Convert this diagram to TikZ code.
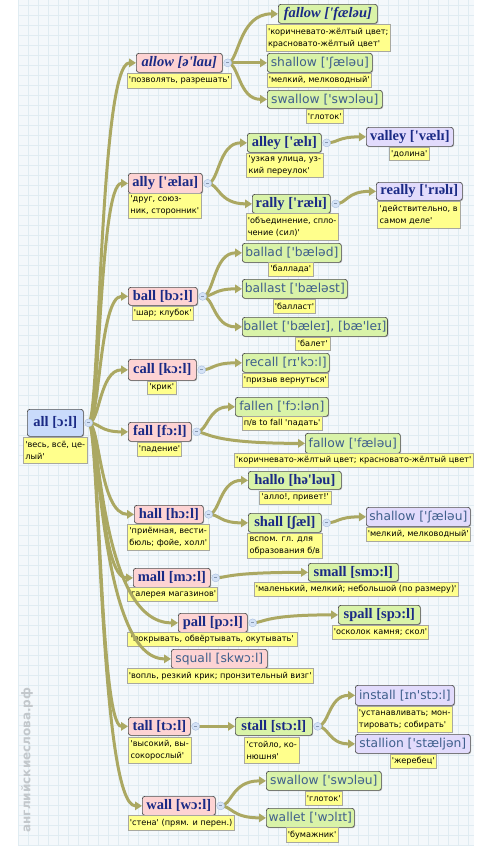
\documentclass[tikz,border=0pt]{standalone}
\usepackage{fontspec}
\setmainfont{DejaVu Sans}
\newfontfamily\hwb{Liberation Serif}[Ligatures=TeXOff]
\newfontfamily\hwn{DejaVu Sans}[Ligatures=TeXOff]
\newfontfamily\trf{DejaVu Sans}[Ligatures=TeXOff]
\usetikzlibrary{arrows.meta,calc,shadows}
\definecolor{navy}{HTML}{1A2A85}
\definecolor{lblue}{HTML}{3F5F8C}
\definecolor{bord}{HTML}{505050}
\definecolor{pinkf}{HTML}{FDD3D3}
\definecolor{greenf}{HTML}{D9F3A8}
\definecolor{purpf}{HTML}{E2DBFC}
\definecolor{bluef}{HTML}{C9DBFB}
\definecolor{yel}{HTML}{FFFF8C}
\definecolor{trb}{HTML}{A8A8A0}
\definecolor{olv}{HTML}{ABA862}
\definecolor{ccf}{HTML}{D4E2F6}
\definecolor{ccd}{HTML}{A9BEDD}
\definecolor{bgf}{HTML}{F4F8FB}
\definecolor{grd}{HTML}{E0ECF2}
\definecolor{wm}{HTML}{C3C8CC}
\tikzset{
 hw/.style={draw=bord, line width=0.7pt, rounded corners=2.5pt, anchor=north west, inner sep=1pt, align=center,
   drop shadow={shadow xshift=0.8pt,shadow yshift=-0.8pt,fill=black!50,opacity=0.5}},
 hb/.style={hw, font=\hwb\bfseries\fontsize{14.5}{15}\selectfont, text=navy},
 hbi/.style={hw, font=\hwb\bfseries\itshape\fontsize{14.5}{15}\selectfont, text=navy},
 hn/.style={hw, font=\hwn\fontsize{12.3}{13}\selectfont, text=lblue},
 pk/.style={fill=pinkf}, gr/.style={fill=greenf}, pu/.style={fill=purpf}, bl/.style={fill=bluef},
 tr/.style={draw=trb, line width=0.5pt, fill=yel, anchor=north west, inner xsep=1.5pt, inner ysep=1pt,
   align=left, font=\trf\fontsize{8.2}{12}\selectfont},
 lnk/.style={draw=olv, line width=3pt, -{Triangle[length=7pt,width=8.5pt]}},
 cc/.style={circle, fill=ccf, draw=ccd, line width=0.4pt, minimum size=8pt, inner sep=0pt},
 wmark/.style={rotate=90, text=wm, font=\trf\bfseries\fontsize{12}{12}\selectfont},
}
\newcommand\lk[2]{\draw[lnk] (#1c) .. controls ($(#1c)+(11,0)$) and ($(#1c |- #2.west)+(11,0)$) .. (#2.west);}
\newcommand\mkc[1]{\coordinate (#1c) at ($(#1.east)+(5,0)$);}
\newcommand\drc[1]{\node[cc] (#1cc) at (#1c) {\textcolor{ccd!80!black}{\rule[0.2pt]{3pt}{0.6pt}}};}
\begin{document}
\begin{tikzpicture}[x=1pt,y=-1pt]
\useasboundingbox (0,0) rectangle (494,847);
\fill[bgf] (18,0) rectangle (474,845);
\foreach \i in {18,28,...,474} \draw[grd,line width=0.4pt] (\i,0) -- (\i,845);
\foreach \j in {5,15,...,845} \draw[grd,line width=0.4pt] (18,\j) -- (474,\j);
\node[wmark] (wmk) at (27,760) {английскиеслова.рф};

% headwords
\node[hb,bl,minimum width=56pt,minimum height=27pt] (all) at (27,409) {all [ɔ:l]};
\node[tr,minimum width=64pt,minimum height=26pt] (t-all) at (23,437) {'весь, всё, це-\\лый'};

\node[hbi,pk,minimum width=86pt,minimum height=19pt] (allow) at (136,53) {allow [ə'lau]};
\node[tr,minimum width=103pt,minimum height=15pt] (t-allow) at (127,73) {'позволять, разрешать'};
\node[hbi,gr,minimum width=99pt,minimum height=19pt] (fallowa) at (278,4) {fallow ['fæləu]};
\node[tr,minimum width=124pt,minimum height=27pt] (t-fallowa) at (266,24) {'коричневато-жёлтый цвет;\\красновато-жёлтый цвет'};
\node[hn,gr,minimum width=105pt,minimum height=19pt] (shallowa) at (267,53) {shallow ['ʃæləu]};
\node[tr,minimum width=102pt,minimum height=14pt] (t-shallowa) at (267,73) {'мелкий, мелководный'};
\node[hn,gr,minimum width=115pt,minimum height=18pt] (swallowa) at (267,90) {swallow ['swɔləu]};
\node[tr,minimum width=37pt,minimum height=14pt] (t-swallowa) at (306,109) {'глоток'};

\node[hb,pk,minimum width=74pt,minimum height=20pt] (ally) at (128,173) {ally ['ælaɪ]};
\node[tr,minimum width=73pt,minimum height=25pt] (t-ally) at (128,193) {'друг, союз-\\ник, сторонник'};
\node[hb,gr,minimum width=74pt,minimum height=19pt] (alley) at (247,133) {alley ['ælɪ]};
\node[tr,minimum width=77pt,minimum height=24pt] (t-alley) at (246,153) {'узкая улица, уз-\\кий переулок'};
\node[hb,pu,minimum width=87pt,minimum height=19pt] (valley) at (366,127) {valley ['vælɪ]};
\node[tr,minimum width=40pt,minimum height=13pt] (t-valley) at (389,147) {'долина'};
\node[hb,gr,minimum width=78pt,minimum height=19pt] (rally) at (252,194) {rally ['rælɪ]};
\node[tr,minimum width=91pt,minimum height=27pt] (t-rally) at (246,213) {'объединение, спло-\\чение (сил)'};
\node[hb,pu,minimum width=86pt,minimum height=18pt] (really) at (376,182) {really ['rɪəlɪ]};
\node[tr,minimum width=83pt,minimum height=27pt] (t-really) at (377,201) {'действительно, в\\самом деле'};

\node[hb,pk,minimum width=69pt,minimum height=18pt] (ball) at (128,287) {ball [bɔ:l]};
\node[tr,minimum width=61pt,minimum height=14pt] (t-ball) at (132,306) {'шар; клубок'};
\node[hn,gr,minimum width=99pt,minimum height=19pt] (ballad) at (242,243) {ballad ['bæləd]};
\node[tr,minimum width=45pt,minimum height=14pt] (t-ballad) at (268,262) {'баллада'};
\node[hn,gr,minimum width=105pt,minimum height=19pt] (ballast) at (242,279) {ballast ['bæləst]};
\node[tr,minimum width=42pt,minimum height=14pt] (t-ballast) at (273,299) {'балласт'};
\node[hn,gr,minimum width=141pt,minimum height=19pt] (ballet) at (242,317) {ballet ['bæleɪ], [bæ'leɪ]};
\node[tr,minimum width=35pt,minimum height=13pt] (t-ballet) at (295,337) {'балет'};

\node[hb,pk,minimum width=68pt,minimum height=21pt] (call) at (128,359) {call [kɔ:l]};
\node[tr,minimum width=29pt,minimum height=13pt] (t-call) at (147,381) {'крик'};
\node[hn,gr,minimum width=87pt,minimum height=19pt] (recall) at (242,353) {recall [rɪ'kɔ:l]};
\node[tr,minimum width=86pt,minimum height=14pt] (t-recall) at (242,373) {'призыв вернуться'};

\node[hb,pk,minimum width=63pt,minimum height=19pt] (fall) at (128,422) {fall [fɔ:l]};
\node[tr,minimum width=40pt,minimum height=14pt] (t-fall) at (137,442) {'падение'};
\node[hn,gr,minimum width=93pt,minimum height=19pt] (fallen) at (235,397) {fallen ['fɔ:lən]};
\node[tr,minimum width=79pt,minimum height=14pt] (t-fallen) at (242,416) {п/в to fall 'падать'};
\node[hn,gr,minimum width=95pt,minimum height=20pt] (fallowb) at (305,433) {fallow ['fæləu]};
\node[tr,minimum width=239pt,minimum height=14pt] (t-fallowb) at (234,453) {'коричневато-жёлтый цвет; красновато-жёлтый цвет'};

\node[hb,pk,minimum width=69pt,minimum height=18pt] (hall) at (134,505) {hall [hɔ:l]};
\node[tr,minimum width=82pt,minimum height=26pt] (t-hall) at (127,524) {'приёмная, вести-\\бюль; фойе, холл'};
\node[hb,gr,minimum width=93pt,minimum height=18pt] (hallo) at (248,471) {hallo [hə'ləu]};
\node[tr,minimum width=72pt,minimum height=13pt] (t-hallo) at (259,491) {'алло!, привет!'};
\node[hb,gr,minimum width=73pt,minimum height=19pt] (shall) at (248,513) {shall [ʃæl]};
\node[tr,minimum width=75pt,minimum height=25pt] (t-shall) at (247,533) {вспом. гл. для\\образования б/в};
\node[hn,pu,minimum width=104pt,minimum height=19pt] (shallowb) at (366,507) {shallow ['ʃæləu]};
\node[tr,minimum width=102pt,minimum height=14pt] (t-shallowb) at (366,527) {'мелкий, мелководный'};

\node[hb,pk,minimum width=77pt,minimum height=19pt] (mall) at (133,568) {mall [mɔ:l]};
\node[tr,minimum width=89pt,minimum height=14pt] (t-mall) at (127,587) {'галерея магазинов'};
\node[hb,gr,minimum width=90pt,minimum height=18pt] (small) at (308,563) {small [smɔ:l]};
\node[tr,minimum width=198pt,minimum height=14pt] (t-small) at (254,582) {'маленький, мелкий; небольшой (по размеру)'};

\node[hb,pk,minimum width=69pt,minimum height=19pt] (pall) at (178,613) {pall [pɔ:l]};
\node[tr,minimum width=170pt,minimum height=14pt] (t-pall) at (127,632) {'покрывать, обвёртывать, окутывать'};
\node[hb,gr,minimum width=82pt,minimum height=19pt] (spall) at (338,605) {spall [spɔ:l]};
\node[tr,minimum width=95pt,minimum height=14pt] (t-spall) at (332,625) {'осколок камня; скол'};

\node[hn,pk,minimum width=96pt,minimum height=19pt] (squall) at (171,649) {squall [skwɔ:l]};
\node[tr,minimum width=185pt,minimum height=15pt] (t-squall) at (127,668) {'вопль, резкий крик; пронзительный визг'};

\node[hb,pk,minimum width=62pt,minimum height=18pt] (tall) at (128,717) {tall [tɔ:l]};
\node[tr,minimum width=63pt,minimum height=26pt] (t-tall) at (128,737) {'высокий, вы-\\сокорослый'};
\node[hb,gr,minimum width=77pt,minimum height=18pt] (stall) at (235,717) {stall [stɔ:l]};
\node[tr,minimum width=55pt,minimum height=26pt] (t-stall) at (244,737) {'стойло, ко-\\нюшня'};
\node[hn,pu,minimum width=99pt,minimum height=20pt] (install) at (355,685) {install [ɪn'stɔ:l]};
\node[tr,minimum width=95pt,minimum height=26pt] (t-install) at (357,706) {'устанавливать; мон-\\тировать; собирать'};
\node[hn,pu,minimum width=115pt,minimum height=19pt] (stallion) at (355,734) {stallion ['stæljən]};
\node[tr,minimum width=45pt,minimum height=14pt] (t-stallion) at (390,754) {'жеребец'};

\node[hb,pk,minimum width=73pt,minimum height=19pt] (wall) at (142,796) {wall [wɔ:l]};
\node[tr,minimum width=103pt,minimum height=15pt] (t-wall) at (128,815) {'стена' (прям. и перен.)};
\node[hn,gr,minimum width=115pt,minimum height=19pt] (swallowb) at (266,771) {swallow ['swɔləu]};
\node[tr,minimum width=37pt,minimum height=14pt] (t-swallowb) at (305,791) {'глоток'};
\node[hn,gr,minimum width=88pt,minimum height=19pt] (wallet) at (266,808) {wallet ['wɔlɪt]};
\node[tr,minimum width=49pt,minimum height=15pt] (t-wallet) at (286,827) {'бумажник'};

% collapse points
\foreach \n in {all,allow,ally,alley,rally,ball,call,fall,hall,shall,mall,pall,tall,stall,wall} {\mkc{\n}}

% connectors
\foreach \c in {allow,ally,ball,call,fall,hall,mall,pall,squall,tall,wall} {\lk{all}{\c}}
\foreach \c in {fallowa,shallowa,swallowa} {\lk{allow}{\c}}
\lk{ally}{alley}
\lk{ally}{rally}
\lk{alley}{valley}
\lk{rally}{really}
\foreach \c in {ballad,ballast,ballet} {\lk{ball}{\c}}
\lk{call}{recall}
\lk{fall}{fallen}
\lk{fall}{fallowb}
\lk{hall}{hallo}
\lk{hall}{shall}
\lk{shall}{shallowb}
\lk{mall}{small}
\lk{pall}{spall}
\lk{tall}{stall}
\lk{stall}{install}
\lk{stall}{stallion}
\lk{wall}{swallowb}
\lk{wall}{wallet}

\foreach \n in {all,allow,ally,alley,rally,ball,call,fall,hall,shall,mall,pall,tall,stall,wall} {\drc{\n}}
\end{tikzpicture}
\end{document}
